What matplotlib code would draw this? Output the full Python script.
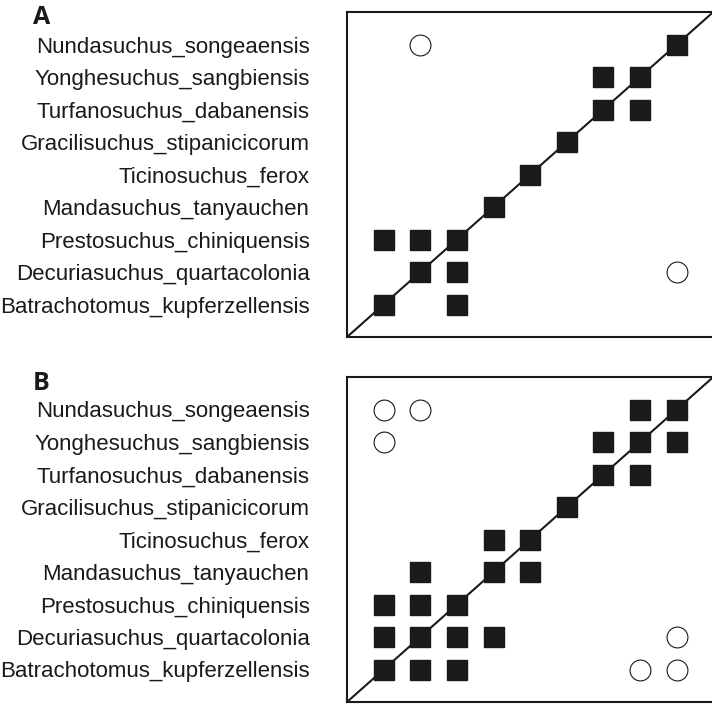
import matplotlib
matplotlib.use("Agg")
import matplotlib.pyplot as plt
import numpy as np

plt.rcParams['font.family'] = ['Liberation Sans', 'DejaVu Sans']

# taxa, top to bottom (rows); columns run in reverse order (left = Batrachotomus)
taxa = [
    "Nundasuchus_songeaensis",
    "Yonghesuchus_sangbiensis",
    "Turfanosuchus_dabanensis",
    "Gracilisuchus_stipanicicorum",
    "Ticinosuchus_ferox",
    "Mandasuchus_tanyauchen",
    "Prestosuchus_chiniquensis",
    "Decuriasuchus_quartacolonia",
    "Batrachotomus_kupferzellensis",
]

# 1 = filled square, 2 = open circle, 0 = empty
matrix_a = np.array([
    [0, 2, 0, 0, 0, 0, 0, 0, 1],
    [0, 0, 0, 0, 0, 0, 1, 1, 0],
    [0, 0, 0, 0, 0, 0, 1, 1, 0],
    [0, 0, 0, 0, 0, 1, 0, 0, 0],
    [0, 0, 0, 0, 1, 0, 0, 0, 0],
    [0, 0, 0, 1, 0, 0, 0, 0, 0],
    [1, 1, 1, 0, 0, 0, 0, 0, 0],
    [0, 1, 1, 0, 0, 0, 0, 0, 2],
    [1, 0, 1, 0, 0, 0, 0, 0, 0],
])

matrix_b = np.array([
    [2, 2, 0, 0, 0, 0, 0, 1, 1],
    [2, 0, 0, 0, 0, 0, 1, 1, 1],
    [0, 0, 0, 0, 0, 0, 1, 1, 0],
    [0, 0, 0, 0, 0, 1, 0, 0, 0],
    [0, 0, 0, 1, 1, 0, 0, 0, 0],
    [0, 1, 0, 1, 1, 0, 0, 0, 0],
    [1, 1, 1, 0, 0, 0, 0, 0, 0],
    [1, 1, 1, 1, 0, 0, 0, 0, 2],
    [1, 1, 1, 0, 0, 0, 0, 2, 2],
])

panels = [("A", matrix_a), ("B", matrix_b)]

fig = plt.figure(figsize=(7.12, 7.04), dpi=100)
W, H = 712, 704
boxes = [(347, 12, 713.3, 337), (347, 377, 713.3, 702)]

n = len(taxa)
for (letter, mat), (x0, y0, x1, y1) in zip(panels, boxes):
    ax = fig.add_axes([x0 / W, 1 - y1 / H, (x1 - x0) / W, (y1 - y0) / H])
    ax.set_xlim(-1, n)
    ax.set_ylim(n, -1)

    rows, cols = np.where(mat == 1)
    ax.plot(cols, rows, linestyle='none', marker='s', markersize=14.4,
            color='#1a1a1a', zorder=3)
    rows, cols = np.where(mat == 2)
    ax.plot(cols, rows, linestyle='none', marker='o', markersize=15,
            markerfacecolor='white', markeredgecolor='#1a1a1a',
            markeredgewidth=0.8, zorder=3)

    # diagonal across the box
    ax.plot([-1, n], [n, -1], color='#1a1a1a', linewidth=1.5, zorder=2)

    ax.set_xticks([])
    ax.set_yticks(range(n))
    ax.set_yticklabels(taxa, fontsize=16, color='#1a1a1a')
    ax.tick_params(axis='y', length=0, pad=27)
    for s in ax.spines.values():
        s.set_linewidth(1.5)
        s.set_color('#1a1a1a')

    fig.text(33 / W, 1 - (y0 + 6) / H, letter, fontsize=18, fontweight='bold',
             family='Open Sans', va='center', ha='left', color='#1a1a1a')

fig.savefig("out.png", dpi=100)
